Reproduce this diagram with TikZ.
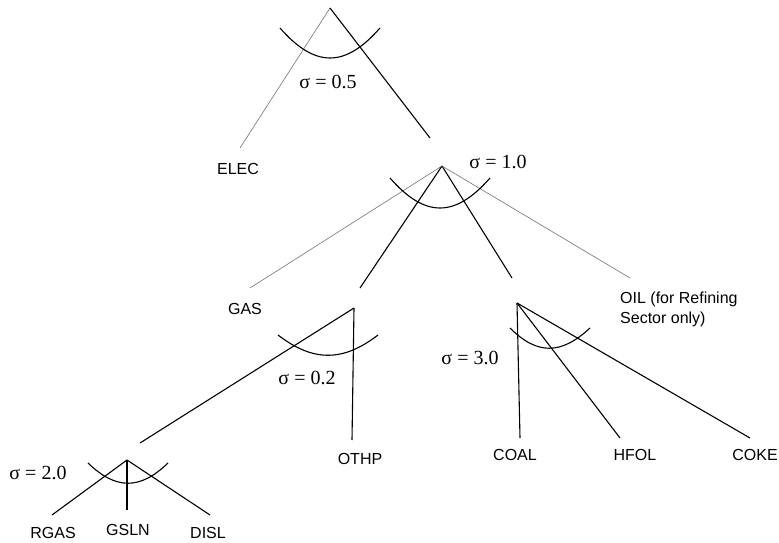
\documentclass[tikz,border=0pt]{standalone}
\usepackage{fontspec}
\setmainfont{Liberation Serif}
\newfontfamily\goodsfont{Liberation Sans}

\tikzset{
  branch/.style={line width=1.1pt, black},
  lightbranch/.style={line width=0.6pt, black!55},
  elas/.style={line width=1.1pt, black},
  good/.style={font=\goodsfont\fontsize{16}{20}\selectfont, inner sep=0pt},
  sigma/.style={font=\fontsize{20}{22}\selectfont, inner sep=0pt}
}

\begin{document}
\begin{tikzpicture}[x=1pt, y=-1pt]
\useasboundingbox (0,0) rectangle (779,543);

% top nest: electricity against the rest of energy
\coordinate (top) at (330,8);
\coordinate (elecend) at (240,148);
\coordinate (nonelecend) at (430,138);
\draw[lightbranch] (top) -- (elecend);
\draw[branch] (top) -- (nonelecend);
\draw[elas] (280,28) .. controls (315,68) and (345,68) .. (380,28);
\node[sigma] (s05) at (328,82) {σ = 0.5};
\node[good] (elec) at (238,169) {ELEC};

% non-electric energy
\coordinate (fuel) at (442,166);
\coordinate (gasend) at (250,288);
\coordinate (othpend) at (360,288);
\coordinate (solidend) at (512,278);
\coordinate (oilend) at (630,278);
\draw[lightbranch] (fuel) -- (gasend);
\draw[branch] (fuel) -- (othpend);
\draw[branch] (fuel) -- (solidend);
\draw[lightbranch] (fuel) -- (oilend);
\draw[elas] (390,178) .. controls (425,218) and (455,218) .. (490,178);
\node[sigma] (s10) at (498,162) {σ = 1.0};
\node[good] (gas) at (245,309) {GAS};
\node[good, anchor=north west, align=left] (oil) at (620,292)
  {OIL (for Refining\\Sector only)};

% gas products and other petroleum
\coordinate (petro) at (354,308);
\coordinate (gaslegend) at (140,443);
\coordinate (othplegend) at (352,440);
\draw[branch] (petro) -- (gaslegend);
\draw[branch] (petro) -- (othplegend);
\draw[elas] (278,335) .. controls (313,362) and (343,362) .. (378,335);
\node[sigma] (s02) at (307,378) {σ = 0.2};
\node[good] (othp) at (360,459) {OTHP};

% coal, heavy fuel oil and coke
\coordinate (solid) at (517,303);
\coordinate (coalend) at (520,438);
\coordinate (hfolend) at (620,438);
\coordinate (cokeend) at (750,438);
\draw[branch] (solid) -- (coalend);
\draw[branch] (solid) -- (hfolend);
\draw[branch] (solid) -- (cokeend);
\draw[elas] (510,328) .. controls (537,355) and (561,355) .. (590,328);
\node[sigma] (s30) at (470,358) {σ = 3.0};
\node[good] (coal) at (515,455) {COAL};
\node[good] (hfol) at (635,455) {HFOL};
\node[good] (coke) at (755,455) {COKE};

% refined gas, gasoline and diesel
\coordinate (liquid) at (127,460);
\coordinate (rgasend) at (52,515);
\coordinate (gslnend) at (127,510);
\coordinate (dislend) at (210,515);
\draw[branch] (liquid) -- (rgasend);
\draw[branch] (liquid) -- (gslnend);
\draw[branch] (liquid) -- (dislend);
\draw[elas] (88,463) .. controls (116,490) and (140,490) .. (168,463);
\node[sigma] (s20) at (38,473) {σ = 2.0};
\node[good] (rgas) at (53,533) {RGAS};
\node[good] (gsln) at (128,530) {GSLN};
\node[good] (disl) at (208,533) {DISL};

\end{tikzpicture}
\end{document}
